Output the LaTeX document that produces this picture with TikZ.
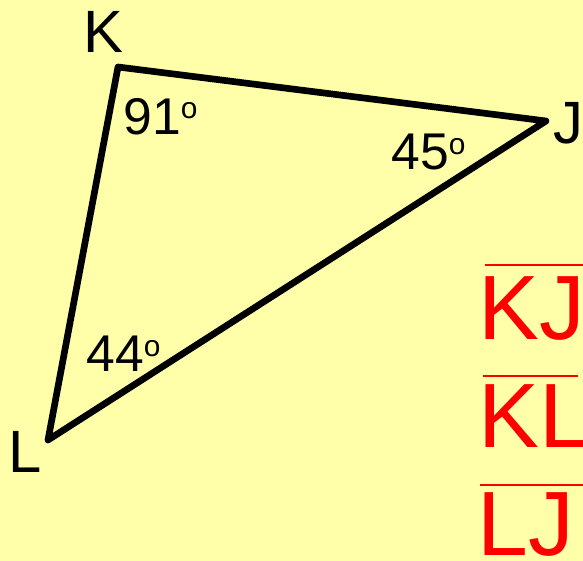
\documentclass[tikz,border=0pt]{standalone}
\usepackage{fontspec}
\setmainfont{Liberation Sans}
\definecolor{paleyellow}{HTML}{FFFFAA}
\definecolor{segred}{HTML}{FF0000}
\newcommand{\dego}{\raisebox{9pt}{\fontsize{17}{17}\selectfont o}}
\tikzset{
  vname/.style={anchor=base west, inner sep=0pt, font=\fontsize{34}{34}\selectfont},
  angle/.style={anchor=base west, inner sep=0pt, font=\fontsize{29.4}{30}\selectfont},
  segment/.style={anchor=base west, inner sep=0pt, text=segred, font=\fontsize{52}{52}\selectfont}
}
\begin{document}
\begin{tikzpicture}[x=0.02cm, y=-0.02cm]
\useasboundingbox (0,0) rectangle (583,561);
\fill[paleyellow] (0,0) rectangle (583,561);
\coordinate (K) at (118,67);
\coordinate (J) at (546,121);
\coordinate (L) at (48,440);
\draw[line width=3.8pt, line join=round] (K) -- (J) -- (L) -- cycle;
\node[vname] (LabelK) at (83,52) {K};
\node[vname] (LabelJ) at (553,144) {J};
\node[vname] (LabelL) at (8,473) {L};
\node[angle] (AngleK) at (123,134) {91\dego};
\node[angle] (AngleJ) at (391,170) {45\dego};
\node[angle] (AngleL) at (86,372) {44\dego};
\node[segment] (SegKJ) at (478,339) {KJ};
\node[segment] (SegKL) at (478,448) {KL};
\node[segment] (SegLJ) at (477,556) {LJ};
\draw[segred, line width=1.2pt] (485,265) -- (583,265);
\draw[segred, line width=1.2pt] (483,376) -- (578,376);
\draw[segred, line width=1.2pt] (480,485) -- (583,485);
\end{tikzpicture}
\end{document}
